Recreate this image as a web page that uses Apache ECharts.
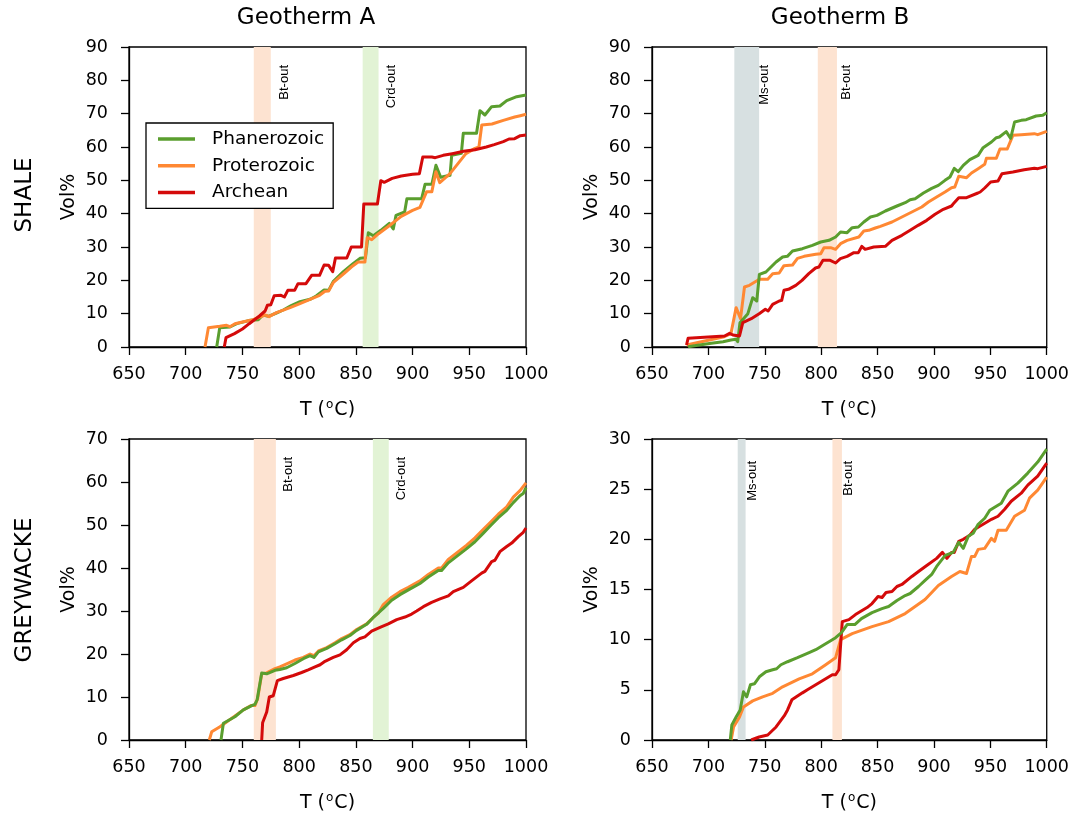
<!DOCTYPE html>
<html>
<head>
<meta charset="utf-8">
<script src="https://cdn.jsdelivr.net/npm/echarts@6/dist/echarts.min.js"></script>
<style>
html,body{margin:0;padding:0;background:#fff;}
#chart{width:1072px;height:815px;}
</style>
</head>
<body>
<div id="chart"></div>
<script>
// ---------- DATA ----------
const seriesNames = ['Phanerozoic', 'Proterozoic', 'Archean'];
const xTicks = [650, 700, 750, 800, 850, 900, 950, 1000];

// SHALE, Geotherm A
const shaleA_phanerozoic = [[727.3,0],[730,5.8],[739,6.0],[745,7.0],[752,7.6],[757,8.0],[764,8.2],[768,9.6],[773,9.2],[780,10.2],[786,11.1],[793,12.4],[800.7,13.6],[809.6,14.3],[815,15.3],[822,17.1],[826,17.0],[830,19.6],[839,22.6],[847.8,25.1],[853.6,26.6],[858.5,26.8],[861,34.3],[865.4,33.4],[872,35.0],[879.5,37.1],[883,35.4],[885.4,39.5],[893,40.5],[895,44.5],[908,44.5],[911,48.8],[917,48.8],[920.6,54.5],[924.8,50.9],[933,51.5],[934.5,57.5],[943,58.1],[944.7,64.1],[956.4,64.1],[959.4,70.9],[963.8,69.6],[969.7,72.1],[977,72.3],[983,73.9],[991.8,75.1],[1000,75.6]];
const shaleA_proterozoic = [[717,0],[720,5.8],[730,6.2],[736,6.5],[739,6.1],[743.4,7.0],[750,7.5],[757,8.0],[760,8.3],[770,9.6],[773.4,9.1],[780,10.3],[792,11.8],[800.7,13.0],[809.6,14.3],[818,15.5],[822.8,16.7],[826,16.8],[830,19.3],[840,22.2],[846,24.0],[852,25.5],[858,25.5],[860,32.8],[864,32.2],[870,34.0],[878,36.0],[890,39.2],[900,41.0],[906.5,41.9],[912.4,46.6],[917,46.6],[920.6,52.6],[924,49.3],[933,52.0],[940,55.0],[947,58.0],[955,59.6],[958.5,60.0],[961,66.6],[970,66.9],[980,68.0],[990,69.0],[995,69.4],[1000,69.8]];
const shaleA_archean = [[734,0],[735.5,2.8],[743,4.0],[750,5.4],[756,7.0],[760,8.0],[765,9.3],[770,10.8],[772,12.5],[775,12.7],[778,15.4],[784,15.5],[787,15.0],[790,17.0],[796,17.0],[799,19.0],[806,19.0],[811,21.5],[818,21.5],[822,24.6],[826,24.5],[829.6,22.6],[832,26.7],[842,26.7],[846,30.0],[855,30.0],[857,42.9],[869,42.9],[872,49.9],[875,49.4],[882,50.6],[890,51.3],[900,51.8],[906,52.0],[909,57.0],[917,57.0],[920,56.8],[927,57.5],[935,58.0],[945,58.7],[955,59.2],[965,60.0],[972,60.7],[980,61.6],[985,62.4],[990,62.5],[995,63.4],[1000,63.6]];

// SHALE, Geotherm B
const shaleB_phanerozoic = [[682,0.1],[692,0.6],[702.6,1.1],[713,1.6],[720,2.1],[724.6,2.3],[726,1.6],[728,7.3],[735,10.0],[739.3,14.8],[742.9,13.8],[745.2,21.8],[751,22.5],[760,25.5],[765.8,27.0],[770,27.2],[774.6,28.8],[783.4,29.5],[792.2,30.5],[799.6,31.5],[807,32.0],[812.8,33.0],[817.2,34.5],[823,34.3],[827.5,35.8],[833,36.0],[837.8,37.5],[843.7,39.0],[849.5,39.5],[856.9,40.8],[867.2,42.3],[874.5,43.3],[878.9,44.2],[883.3,44.5],[890.7,46.2],[898,47.6],[903.9,48.5],[909.8,50.0],[914.2,51.0],[918,53.6],[921.5,52.6],[926,54.5],[931.8,56.2],[939.2,57.5],[943.6,59.8],[951,61.5],[955.3,62.8],[958,63.0],[964.1,64.6],[968,62.6],[971.5,67.5],[977.4,68.0],[981.8,68.2],[990.6,69.3],[996.5,69.5],[1000,70.3]];
const shaleB_proterozoic = [[680.6,0.6],[682,1.1],[714,3.1],[720,4.0],[724.6,11.8],[728.5,8.5],[732,18.0],[736.4,18.5],[742.3,19.7],[745.2,20.3],[752.6,20.3],[757,22.0],[762.8,22.2],[767,24.4],[774.6,24.6],[779,26.6],[784.9,27.2],[795.2,27.8],[799.6,28.0],[802.5,29.8],[808.4,29.8],[812.8,29.3],[817.2,31.0],[823,32.0],[833.4,33.0],[837.8,34.8],[842.2,35.0],[848,35.7],[852.5,36.2],[862.8,37.5],[871.6,39.0],[880.4,40.5],[889.2,42.0],[895.1,43.5],[902.4,45.0],[909.8,46.5],[915.6,47.8],[918.5,48.0],[922,51.2],[928.9,50.8],[933.3,52.2],[939.2,53.5],[945,54.8],[946.5,56.6],[955.3,56.6],[957,56.8],[958.5,59.4],[965,59.4],[970,63.5],[977.4,63.7],[989,64.0],[992,63.7],[1000,64.7]];
const shaleB_archean = [[680.6,0.6],[682,2.6],[714.4,3.3],[718.8,4.1],[721.7,3.6],[727.6,3.3],[730.5,7.3],[738,8.5],[745,10.0],[750.5,11.3],[753,10.8],[757,12.8],[762.8,13.8],[765,14.0],[767,17.0],[771,17.3],[777.5,18.5],[783,20.0],[789,22.0],[795,23.7],[798,24.0],[801.6,26.0],[808,26.0],[812.8,25.2],[817,26.5],[823,27.2],[829,28.3],[833,28.3],[836,30.2],[839,29.3],[846.6,30.0],[856.9,30.2],[862.8,32.0],[871.6,33.5],[878.9,35.0],[886,36.5],[893.6,38.0],[901,39.8],[908.3,41.3],[915.6,42.3],[918,43.3],[922,44.8],[928.9,44.8],[939,46.2],[941,46.5],[945,47.7],[950.3,49.5],[956.8,49.8],[960.3,52.0],[970,52.5],[980,53.2],[989,53.6],[992,53.5],[1000,54.2]];

// GREYWACKE, Geotherm A
const greyA_phanerozoic = [[731.1,0],[733.2,3.9],[743.4,5.4],[750.8,7.0],[758.2,8.0],[761,8.3],[763,9.4],[767,15.6],[771.4,15.4],[778.7,16.2],[783,16.4],[789,16.8],[796.3,17.8],[803.7,18.9],[809.6,19.6],[813,19.2],[817,20.5],[824.3,21.3],[831.6,22.4],[837.5,23.3],[844.8,24.3],[850.7,25.5],[859.5,26.9],[865.4,28.5],[874.2,30.6],[881.6,32.5],[888.9,33.8],[896.3,34.9],[906.5,36.4],[913.9,37.9],[922.7,39.4],[925.6,39.4],[931.5,41.2],[938.9,42.7],[947.7,44.5],[955,46.1],[962.4,48.1],[968.2,49.7],[975.6,51.7],[983,53.4],[988.8,55.2],[994.7,56.8],[997.5,57.3],[1000,58.7]];
const greyA_proterozoic = [[720.8,0],[722.9,1.9],[730.2,3.1],[736,4.2],[743.4,5.6],[750.8,7.0],[757.6,8.0],[761,8.0],[763.4,9.6],[767,15.4],[771.4,15.6],[778.7,16.6],[783,17.0],[789,17.7],[796.3,18.6],[803.7,19.2],[809.6,20.0],[813,19.6],[817,20.7],[824.3,21.5],[831.6,22.6],[837.5,23.6],[844.8,24.5],[850.7,25.7],[859.5,27.0],[865.4,28.5],[869.8,29.5],[874.2,31.5],[881.6,33.2],[888.9,34.5],[896.3,35.5],[906.5,37.0],[913.9,38.5],[922.7,40.0],[925.6,40.0],[931.5,42.0],[938.9,43.5],[947.7,45.3],[955,47.0],[962.4,49.0],[968.2,50.5],[975.6,52.5],[983,54.2],[988.8,56.5],[994.7,58.0],[1000,59.8]];
const greyA_archean = [[767,0],[767.8,4.0],[771.4,6.5],[773.7,10.0],[777.2,10.3],[780.8,13.8],[786,14.3],[794.9,15.0],[802.2,15.7],[808,16.3],[814,17.0],[818.5,17.5],[822.8,18.3],[830.1,19.2],[836,19.8],[841.9,21.0],[847.8,22.6],[853.6,23.6],[858,24.0],[863.9,25.3],[871.3,26.2],[878.6,27.0],[886,28.0],[893.3,28.6],[899.2,29.3],[903.6,30.0],[909.5,31.0],[916.8,32.0],[924.2,32.8],[931.5,33.5],[935.9,34.5],[944.7,35.5],[952,37.0],[960.9,38.8],[963.8,39.2],[969.7,41.5],[972.6,41.8],[977,43.8],[983,45.0],[987.4,45.8],[993.2,47.3],[997.6,48.3],[1000,49.3]];

// GREYWACKE, Geotherm B
const greyB_phanerozoic = [[719.4,0],[720.8,1.5],[724.6,2.3],[728.2,3.0],[731.1,4.8],[734,4.3],[737.3,5.5],[740.8,5.6],[745.2,6.3],[751,6.8],[757,7.0],[760.5,7.1],[764.3,7.5],[770.2,7.8],[779,8.2],[789.3,8.7],[795.2,9.0],[802.5,9.5],[809.9,10.0],[812.8,10.2],[818,10.7],[823,11.5],[829.8,11.5],[835.7,12.1],[845.1,12.7],[853.9,13.1],[859.8,13.3],[867.2,13.9],[874.5,14.4],[878.9,14.6],[886.3,15.3],[892.1,15.9],[898,16.5],[902.4,17.3],[910,18.4],[917,18.7],[922,19.7],[926,19.1],[930.4,20.3],[934.8,20.6],[939.2,21.5],[945,22.1],[949.5,22.9],[955.3,23.3],[959.7,23.6],[965.6,24.8],[974.4,25.6],[983.2,26.6],[992,27.7],[1000,29.0]];
const greyB_proterozoic = [[720.2,0],[722.3,1.3],[727.6,2.3],[731.1,3.3],[739.3,3.9],[748.1,4.3],[757,4.65],[765.8,5.3],[780.5,6.1],[792.2,6.6],[804,7.5],[812.8,8.2],[817.2,10.0],[827.5,10.6],[845.1,11.3],[859.8,11.8],[874.5,12.6],[892.1,14.0],[903.9,15.4],[915.6,16.3],[923,16.8],[928.9,16.6],[933.3,18.3],[936.2,18.3],[939.2,19.0],[945,19.1],[950.9,20.1],[953.8,19.8],[956.8,20.9],[964.1,20.9],[971.5,22.3],[980.3,22.9],[984.7,24.1],[992,24.9],[1000,26.2]];
const greyB_archean = [[737.9,0],[745,0.3],[752.6,0.5],[760,1.3],[767.2,2.4],[770.2,3.0],[774,4.0],[778,4.3],[783.4,4.7],[787.8,5.0],[793.7,5.4],[799.6,5.8],[805.5,6.2],[809.9,6.5],[812.8,6.5],[815.7,7.0],[818.7,11.8],[824.6,12.0],[830.4,12.5],[834.8,12.8],[840.7,13.2],[845.1,13.6],[850.4,14.3],[854,14.2],[857.5,14.7],[862.8,14.8],[867.2,15.3],[871.6,15.5],[880.4,16.3],[886.3,16.8],[893.6,17.4],[902.4,18.1],[907.5,18.7],[911.5,18.1],[915.6,18.7],[918,18.7],[922,19.8],[926,20.0],[931.8,20.4],[936.2,21.0],[943.6,21.5],[951,22.0],[956.8,22.3],[962.7,23.0],[968.5,23.8],[977.4,24.6],[983.2,25.4],[992,26.3],[1000,27.6]];

// Mineral-out bands (temperature ranges, °C) and label temperatures
const bandNamesShaleA = ['Bt-out', 'Crd-out'];
const bandFromShaleA = [760, 856];
const bandToShaleA = [775, 870];
const bandLabelTShaleA = [787, 881.6];

const bandNamesShaleB = ['Ms-out', 'Bt-out'];
const bandFromShaleB = [723, 797];
const bandToShaleB = [745, 814];
const bandLabelTShaleB = [749.4, 822];

const bandNamesGreyA = ['Bt-out', 'Crd-out'];
const bandFromGreyA = [760, 865];
const bandToGreyA = [779.5, 879];
const bandLabelTGreyA = [790.5, 889.8];

const bandNamesGreyB = ['Ms-out', 'Bt-out'];
const bandFromGreyB = [726, 810];
const bandToGreyB = [733, 818.4];
const bandLabelTGreyB = [739.3, 824.6];

const yMaxes = [90, 90, 70, 30];
const yIntervals = [10, 10, 10, 5];

// ---------- STYLE / LAYOUT ----------
const FONT = 'DejaVu Sans';
const colors = {Phanerozoic: '#5a9e2e', Proterozoic: '#ff8833', Archean: '#d40a0a'};
const bandColors = {'Bt-out': '#fde3d1', 'Crd-out': '#e2f3d5', 'Ms-out': '#d7e0e1'};
const grids = [
  {left: 129, top: 47, width: 397, height: 300},
  {left: 652, top: 47, width: 397, height: 300},
  {left: 129, top: 439, width: 397, height: 301},
  {left: 652, top: 439, width: 397, height: 301}
];
const labelOffsets = [18, 18, 18, 22];

const panelSeries = [
  [shaleA_phanerozoic, shaleA_proterozoic, shaleA_archean],
  [shaleB_phanerozoic, shaleB_proterozoic, shaleB_archean],
  [greyA_phanerozoic, greyA_proterozoic, greyA_archean],
  [greyB_phanerozoic, greyB_proterozoic, greyB_archean]
];
const drawOrders = [[0,1,2],[1,0,2],[1,0,2],[1,2,0]];
const panelBands = [
  [bandNamesShaleA, bandFromShaleA, bandToShaleA, bandLabelTShaleA],
  [bandNamesShaleB, bandFromShaleB, bandToShaleB, bandLabelTShaleB],
  [bandNamesGreyA, bandFromGreyA, bandToGreyA, bandLabelTGreyA],
  [bandNamesGreyB, bandFromGreyB, bandToGreyB, bandLabelTGreyB]
];

const gridOpts = grids.map(g => Object.assign({
  show: true, borderColor: '#000', borderWidth: 1.3, backgroundColor: 'rgba(0,0,0,0)', containLabel: false
}, g));

const xAxes = grids.map((g, i) => ({
  type: 'value', gridIndex: i, min: xTicks[0], max: xTicks[xTicks.length - 1], interval: 50,
  name: 'T ({sup|o}C)', nameLocation: 'middle', nameGap: 52,
  nameTextStyle: {fontFamily: FONT, fontSize: 19, color: '#000', lineHeight: 22,
    rich: {sup: {fontFamily: FONT, fontSize: 12, color: '#000', verticalAlign: 'top', lineHeight: 22, padding: [0, 1, 9, 1]}}},
  axisLine: {show: true, lineStyle: {color: '#000', width: 1.3}},
  axisTick: {show: true, inside: false, length: 8, lineStyle: {color: '#000', width: 1.3}},
  axisLabel: {fontFamily: FONT, fontSize: 17.5, color: '#000', margin: 18, formatter: v => String(v)},
  splitLine: {show: false}
}));

const yAxes = grids.map((g, i) => ({
  type: 'value', gridIndex: i, min: 0, max: yMaxes[i], interval: yIntervals[i],
  name: 'Vol%', nameLocation: 'middle', nameGap: 50, nameRotate: 90,
  nameTextStyle: {fontFamily: FONT, fontSize: 19, color: '#000'},
  axisLine: {show: true, lineStyle: {color: '#000', width: 1.3}},
  axisTick: {show: true, inside: false, length: 8, lineStyle: {color: '#000', width: 1.3}},
  axisLabel: {fontFamily: FONT, fontSize: 17.5, color: '#000', margin: 21, formatter: v => String(v)},
  splitLine: {show: false}
}));

const series = [];
panelBands.forEach((b, i) => {
  const names = b[0], from = b[1], to = b[2], lt = b[3];
  series.push({
    type: 'custom', name: 'bands' + i, xAxisIndex: i, yAxisIndex: i, z: 1, silent: true,
    data: names.map((n, k) => [from[k], to[k], lt[k]]),
    encode: {x: [0, 1, 2]},
    renderItem: function (params, api) {
      const cs = params.coordSys;
      const nm = names[params.dataIndex];
      const p0 = api.coord([api.value(0), 0]);
      const p1 = api.coord([api.value(1), 0]);
      const pl = api.coord([api.value(2), 0]);
      return {
        type: 'group',
        children: [
          {type: 'rect', shape: {x: p0[0], y: cs.y, width: p1[0] - p0[0], height: cs.height},
            style: {fill: bandColors[nm]}},
          {type: 'text', x: pl[0], y: cs.y + labelOffsets[i], rotation: Math.PI / 2,
            style: {text: nm, fill: '#000', font: '13px "Liberation Sans"', align: 'right', verticalAlign: 'middle'}}
        ]
      };
    }
  });
});

panelSeries.forEach((arr, i) => {
  drawOrders[i].forEach((k, order) => {
    const nm = seriesNames[k];
    series.push({
      type: 'line', name: nm, xAxisIndex: i, yAxisIndex: i, z: 3 + order,
      data: arr[k], symbol: 'none', showSymbol: false,
      lineStyle: {color: colors[nm], width: 3, join: 'round'},
      itemStyle: {color: colors[nm]}
    });
  });
});

const graphics = [
  {type: 'text', x: 306, y: 18, style: {text: 'Geotherm A', font: '23px "DejaVu Sans"', fill: '#000', align: 'center', verticalAlign: 'middle'}},
  {type: 'text', x: 840, y: 18, style: {text: 'Geotherm B', font: '23px "DejaVu Sans"', fill: '#000', align: 'center', verticalAlign: 'middle'}},
  {type: 'text', x: 25, y: 195, rotation: Math.PI / 2, style: {text: 'SHALE', font: '23px "DejaVu Sans"', fill: '#000', align: 'center', verticalAlign: 'middle'}},
  {type: 'text', x: 25, y: 590, rotation: Math.PI / 2, style: {text: 'GREYWACKE', font: '23px "DejaVu Sans"', fill: '#000', align: 'center', verticalAlign: 'middle'}}
];

const chart = echarts.init(document.getElementById('chart'), null, {renderer: 'canvas'});
chart.setOption({
  animation: false,
  backgroundColor: '#fff',
  grid: gridOpts,
  xAxis: xAxes,
  yAxis: yAxes,
  legend: {
    data: seriesNames, orient: 'vertical', left: 146, top: 123,
    padding: [6, 9, 6, 12], itemGap: 6.7, itemWidth: 37, itemHeight: 3.5, icon: 'rect',
    backgroundColor: '#fff', borderColor: '#000', borderWidth: 1.3, borderRadius: 0,
    selectedMode: false,
    textStyle: {fontFamily: FONT, fontSize: 18.5, color: '#000', lineHeight: 20, padding: [0, 0, 0, 12]}
  },
  graphic: graphics,
  series: series
});
</script>
</body>
</html>
